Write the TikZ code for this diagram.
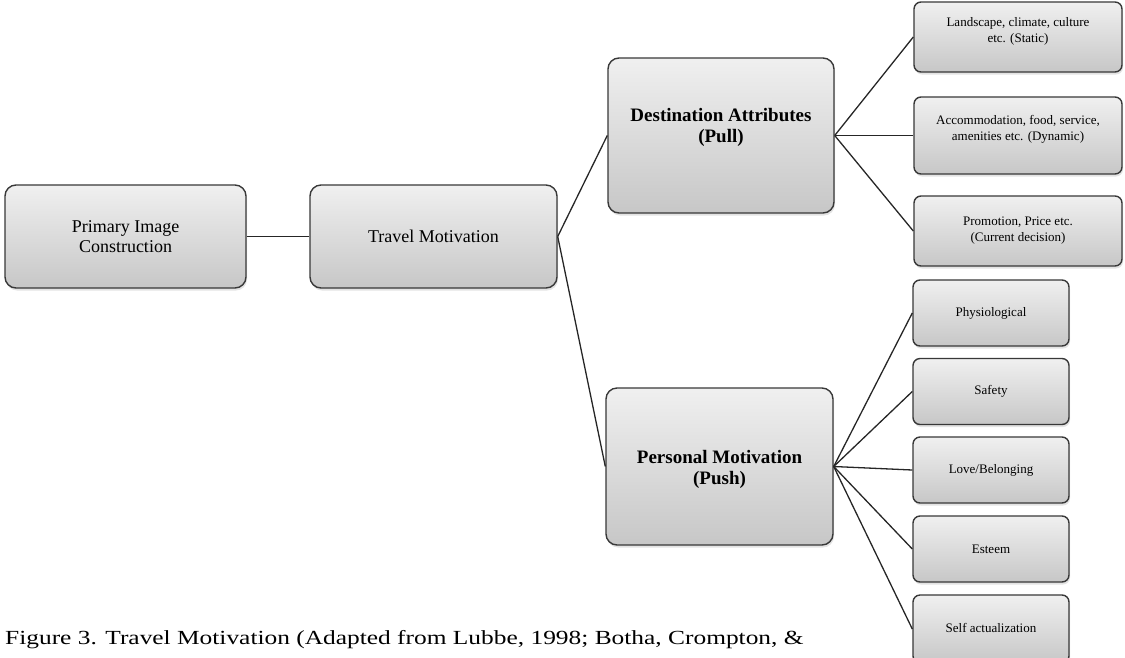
\documentclass[tikz,border=0pt]{standalone}
\usepackage{fontspec}
\setmainfont{Liberation Serif}
\usetikzlibrary{shadows}
\begin{document}
\begin{tikzpicture}[x=1pt,y=-1pt,
  boxbase/.style={draw=black!78, line width=1.4pt, top color=black!6, bottom color=black!22,
    drop shadow={shadow xshift=1pt,shadow yshift=-2.5pt,opacity=0.22}, inner sep=0pt},
  bigbox/.style={boxbase, rounded corners=11pt},
  smallbox/.style={boxbase, rounded corners=7pt},
  midtxt/.style={align=center, font=\fontsize{18}{20}\selectfont},
  boldtxt/.style={align=center, font=\fontsize{19}{21}\selectfont\bfseries},
  smalltxt/.style={align=center, font=\fontsize{13}{16}\selectfont},
  conn/.style={draw=black!85, line width=1.3pt}
]
\useasboundingbox (0,0) rectangle (1125,657);

% main boxes
\node[bigbox, minimum width=241pt, minimum height=103pt] (pic) at (125.5,236.5) {};
\node[midtxt] (picT) at (pic.center) {Primary Image\\Construction};
\node[bigbox, minimum width=247pt, minimum height=103pt] (tm) at (433.5,236.5) {};
\node[midtxt] (tmT) at (tm.center) {Travel Motivation};
\node[bigbox, minimum width=226pt, minimum height=155pt] (dest) at (721,135.5) {};
\node[boldtxt] (destT) at ([yshift=8pt]dest.center) {Destination Attributes\\(Pull)};
\node[bigbox, minimum width=227pt, minimum height=157pt] (pers) at (719.5,466.5) {};
\node[boldtxt] (persT) at ([yshift=-3pt]pers.center) {Personal Motivation\\(Push)};

% right top boxes
\node[smallbox, minimum width=208pt, minimum height=70pt] (land) at (1018,37) {};
\node[smalltxt] (landT) at ([yshift=6pt]land.center) {Landscape, climate, culture\\etc. (Static)};
\node[smallbox, minimum width=208pt, minimum height=77pt] (acc) at (1018,135.5) {};
\node[smalltxt] (accT) at ([yshift=6pt]acc.center) {Accommodation, food, service,\\amenities etc. (Dynamic)};
\node[smallbox, minimum width=208pt, minimum height=70pt] (prom) at (1018,231) {};
\node[smalltxt] (promT) at (prom.center) {Promotion, Price etc.\\(Current decision)};

% right lower boxes
\node[smallbox, minimum width=156pt, minimum height=66pt] (phys) at (991,313) {};
\node[smalltxt] (physT) at (phys.center) {Physiological};
\node[smallbox, minimum width=156pt, minimum height=66pt] (safe) at (991,391.5) {};
\node[smalltxt] (safeT) at (safe.center) {Safety};
\node[smallbox, minimum width=156pt, minimum height=66pt] (love) at (991,470) {};
\node[smalltxt] (loveT) at (love.center) {Love/Belonging};
\node[smallbox, minimum width=156pt, minimum height=66pt] (este) at (991,549) {};
\node[smalltxt] (esteT) at (este.center) {Esteem};
\node[smallbox, minimum width=156pt, minimum height=68pt] (self) at (991,629) {};
\node[smalltxt] (selfT) at ([yshift=1pt]self.center) {Self actualization};

% connectors
\draw[conn] (pic.east) -- (tm.west);
\draw[conn] (tm.east) -- (dest.west);
\draw[conn] (tm.east) -- (pers.west);
\foreach \t in {land,acc,prom} \draw[conn] (dest.east) -- (\t.west);
\foreach \t in {phys,safe,love,este,self} \draw[conn] (pers.east) -- (\t.west);

% caption
\node[anchor=base west, inner sep=0pt, font=\fontsize{20}{22}\selectfont] (cap) at (5,644)
  {\scalebox{1.27}[1]{Figure 3. Travel Motivation (Adapted from Lubbe, 1998; Botha, Crompton, \&}};
\end{tikzpicture}
\end{document}
